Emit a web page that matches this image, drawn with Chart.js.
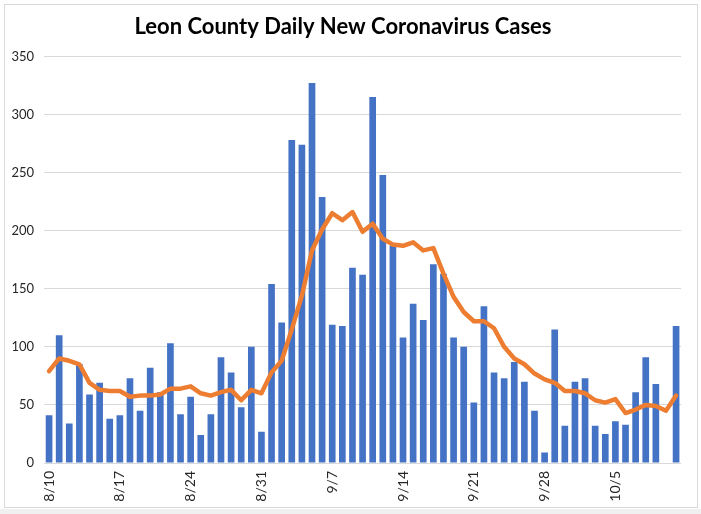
<!DOCTYPE html>
<html>
<head>
<meta charset="utf-8">
<script src="https://cdn.jsdelivr.net/npm/chart.js@4"></script>
<style>
  html, body { margin: 0; padding: 0; background: #fff; }
  #wrap { position: relative; width: 701px; height: 514px; overflow: hidden; }
  #frame { position: absolute; left: 4px; top: 4px; width: 692px; height: 502px; border: 1px solid #d9d9d9; pointer-events: none; }
  #band { position: absolute; left: 0; top: 509px; width: 701px; height: 5px; background: #f0f0f0; }
  canvas { position: absolute; left: 0; top: 0; }
</style>
</head>
<body>
<div id="wrap">
  <canvas id="barChart" width="701" height="514"></canvas>
  <div id="frame"></div>
  <div id="band"></div>
</div>
<script>
const ctx = document.getElementById('barChart');

// days, 8/10 to 10/11
const days = [
  '8/10','8/11','8/12','8/13','8/14','8/15','8/16',
  '8/17','8/18','8/19','8/20','8/21','8/22','8/23',
  '8/24','8/25','8/26','8/27','8/28','8/29','8/30',
  '8/31','9/1','9/2','9/3','9/4','9/5','9/6',
  '9/7','9/8','9/9','9/10','9/11','9/12','9/13',
  '9/14','9/15','9/16','9/17','9/18','9/19','9/20',
  '9/21','9/22','9/23','9/24','9/25','9/26','9/27',
  '9/28','9/29','9/30','10/1','10/2','10/3','10/4',
  '10/5','10/6','10/7','10/8','10/9','10/10','10/11'
];

// labels shown under the axis
const tickLabels = ['8/10', '8/17', '8/24', '8/31', '9/7', '9/14', '9/21', '9/28', '10/5'];

const newCases = [
  41, 110, 34, 85, 59, 69, 38, 41, 73, 45,
  82, 61, 103, 42, 57, 24, 42, 91, 78, 48,
  100, 27, 154, 121, 278, 274, 327, 229, 119, 118,
  168, 162, 315, 248, 187, 108, 137, 123, 171, 163,
  108, 100, 52, 135, 78, 73, 87, 70, 45, 9,
  115, 32, 70, 73, 32, 25, 36, 33, 61, 91,
  68, null, 118
];

// rolling average (orange line)
const avgCases = [
  79, 90, 88, 85, 69, 63, 62, 62, 57, 58,
  58, 59, 64, 64, 66, 60, 58, 61, 63, 54,
  63, 60, 78, 88, 115, 144, 183, 201, 215, 209,
  216, 199, 206, 193, 188, 187, 190, 183, 185, 163,
  143, 130, 122, 122, 116, 100, 90, 85, 77, 72,
  69, 62, 62, 60, 54, 52, 55, 43, 46, 50,
  49, 45, 58
];

const yTicks = [0, 50, 100, 150, 200, 250, 300, 350];

var chart = {
    type: 'bar',
    data: {
        labels: days,
        datasets: [{
            type: 'line',
            label: 'Average',
            data: avgCases,
            borderColor: '#ED7D31',
            borderWidth: 4.5,
            pointRadius: 0,
            tension: 0,
            borderJoinStyle: 'round',
            borderCapStyle: 'round',
            order: 0
        }, {
            label: 'New cases',
            data: newCases,
            backgroundColor: '#4472C4',
            categoryPercentage: 1,
            barPercentage: 0.66,
            order: 1
        }]
    },
    options: {
        responsive: false,
        animation: false,
        devicePixelRatio: 1,
        layout: { padding: { left: 0, right: 15, top: 0, bottom: 11 } },
        plugins: {
            legend: { display: false },
            tooltip: { enabled: false },
            title: {
                display: true,
                text: 'Leon County Daily New Coronavirus Cases',
                color: '#000',
                font: { family: 'Lato', size: 22, weight: 'bold', lineHeight: 1.2 },
                padding: { top: 14, bottom: 16 }
            }
        },
        scales: {
            x: {
                grid: { display: false, drawTicks: false },
                border: { display: false },
                ticks: {
                    autoSkip: false,
                    minRotation: 90,
                    maxRotation: 90,
                    padding: 8,
                    color: '#262626',
                    font: { family: 'Lato', size: 14 },
                    callback: function (val, i) {
                        let d = days[i];
                        return tickLabels.includes(d) ? d : '';
                    }
                },
                afterFit: function (scale) { scale.height = 40; }
            },
            y: {
                min: yTicks[0],
                max: yTicks[yTicks.length - 1],
                grid: { color: '#d9d9d9', lineWidth: 1, drawTicks: false },
                border: { display: false },
                ticks: {
                    stepSize: 50,
                    padding: 10,
                    color: '#262626',
                    font: { family: 'Lato', size: 13 }
                },
                afterFit: function (scale) { scale.width = 44; }
            }
        }
    }
};

let chart1 = new Chart(ctx, chart);
</script>
</body>
</html>
